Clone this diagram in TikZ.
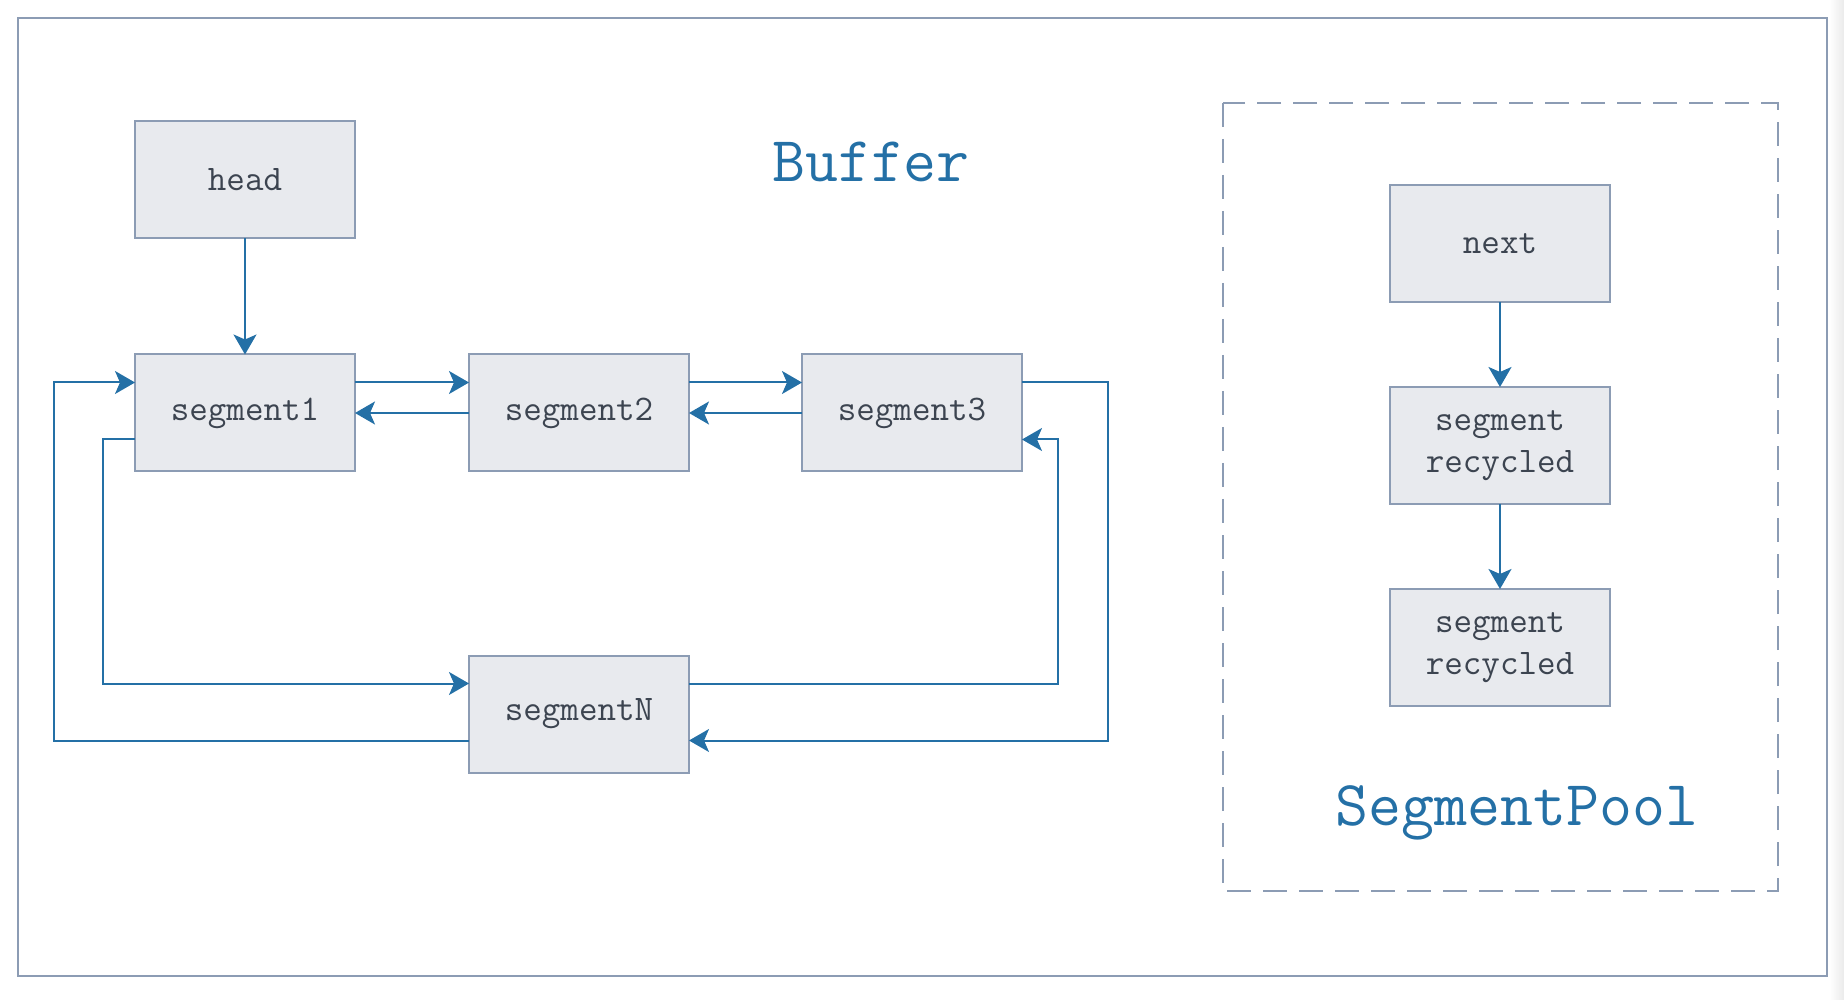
\documentclass[tikz,border=0pt]{standalone}
\usepackage{xcolor,tikz}
\usetikzlibrary{arrows.meta,positioning}
\definecolor{boxfill}{HTML}{E8EAEE}
\definecolor{boxline}{HTML}{8C9CB4}
\definecolor{linkblue}{HTML}{2470A6}
\definecolor{textgray}{HTML}{3C4450}

\begin{document}
\begin{tikzpicture}[x=0.5pt, y=0.5pt,
  font=\ttfamily\fontsize{18}{21}\selectfont,
  seg/.style={draw=boxline, line width=1pt, fill=boxfill, text=textgray,
    minimum width=110pt, minimum height=58.5pt, inner sep=0pt, outer sep=0pt, align=center},
  link/.style={draw=linkblue, line width=1pt, -{Stealth[length=10pt, width=11.5pt, inset=2.5pt]}},
  title/.style={text=linkblue, font=\ttfamily\fontsize{32}{36}\selectfont, anchor=base}]
  \useasboundingbox (0,0) rectangle (1844,-1000);
  \shade[left color=white, right color=black!8] (1829,0) rectangle (1844,-1000);
  \draw[boxline, line width=1pt] (18,-18) rectangle (1827,-976);
  \draw[boxline, line width=1pt, dash pattern=on 12pt off 6pt] (1223,-103) rectangle (1778,-891);

  \node[title] (buffer) at (871,-182) {Buffer};
  \node[title] (pool) at (1517,-825) {SegmentPool};

  % buffer side
  \node[seg] (head) at (245,-180) {head};
  \node[seg, below=58pt of head] (seg1) {segment1};
  \node[seg, right=57pt of seg1] (seg2) {segment2};
  \node[seg, right=56.5pt of seg2] (seg3) {segment3};
  \node[seg, below=92pt of seg2] (segN) {segmentN};

  % pool side
  \node[seg] (next) at (1500,-243.5) {next};
  \node[seg, below=42.5pt of next] (rec1) {segment\\recycled};
  \node[seg, below=42.5pt of rec1] (rec2) {segment\\recycled};

  \draw[link] (head) -- (seg1);
  \draw[link] ([yshift=-14pt]seg1.north east) -- ([yshift=-14pt]seg2.north west);
  \draw[link] (seg2.west) -- (seg1.east);
  \draw[link] ([yshift=-14pt]seg2.north east) -- ([yshift=-14pt]seg3.north west);
  \draw[link] (seg3.west) -- (seg2.east);
  \draw[link] ([yshift=-14pt]seg3.north east) -- ++(43pt,0) |- ([yshift=16pt]segN.south east);
  \draw[link] ([yshift=-14pt]segN.north east) -- ++(184.5pt,0) |- ([yshift=16pt]seg3.south east);
  \draw[link] ([yshift=16pt]seg1.south west) -- ++(-16pt,0) |- ([yshift=-14pt]segN.north west);
  \draw[link] ([yshift=16pt]segN.south west) -- ++(-207.5pt,0) |- ([yshift=-14pt]seg1.north west);

  \draw[link] (next) -- (rec1);
  \draw[link] (rec1) -- (rec2);
\end{tikzpicture}
\end{document}
